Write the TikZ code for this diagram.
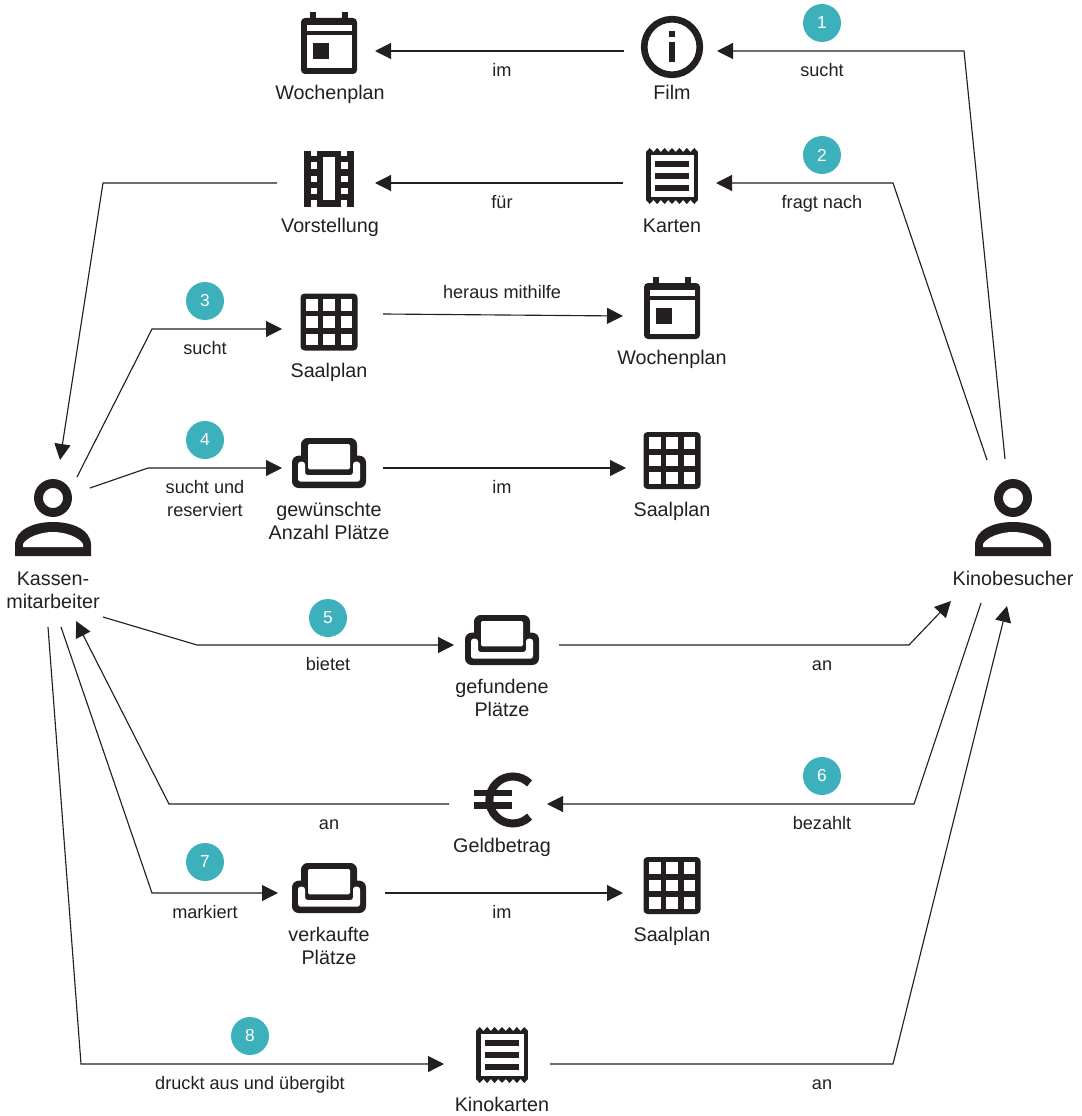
\documentclass[tikz,border=0pt]{standalone}
\usepackage{fontspec}
\setmainfont{Liberation Sans}
\usetikzlibrary{arrows.meta,positioning}
\definecolor{icondark}{HTML}{231F20}
\definecolor{stepteal}{HTML}{3DB1BB}
\tikzset{
    link/.style={-{Triangle[length=12pt,width=12pt]},line width=.85pt,icondark},
    iconbox/.style={inner sep=0pt,outer sep=0pt,minimum height=1pt,minimum width=#1*.75pt},
    thing/.style={inner sep=0pt,anchor=base,yshift=-1pt,align=center,text=icondark,font=\fontsize{14.8}{17.25}\selectfont},
    verb/.style={inner sep=0pt,anchor=base,yshift=-.4pt,align=center,text=icondark,font=\fontsize{13.6}{17.25}\selectfont},
    stepdot/.style={circle,fill=stepteal,text=white,inner sep=0pt,minimum size=28.5pt,font=\fontsize{13}{15}\selectfont},
    calendaricon/.pic={
        \fill[icondark,rounded corners=3pt] (-28,-25) rectangle (28,31);
        \fill[icondark] (-19,-31) rectangle (-13,-20);
        \fill[icondark] (13,-31) rectangle (19,-20);
        \fill[white] (-22.5,-18) rectangle (22.5,-12);
        \fill[white] (-22.5,-8) rectangle (22.5,25.5);
        \fill[icondark] (-16,0) rectangle (0,16);
    },
    infoicon/.pic={
        \draw[icondark,line width=5pt] (0,0) circle (27.8);
        \fill[icondark] (-3.3,-16) rectangle (3.3,-10);
        \fill[icondark] (-3.3,-5) rectangle (3.3,15);
    },
    stripicon/.pic={
        \fill[icondark] (-25,-28) rectangle (25,28);
        \fill[white] (-6.3,-22) rectangle (6,21);
        \foreach \y in {-16.5,-3,9} {
            \fill[white] (-18.5,\y) rectangle (-12.3,\y+6.5);
            \fill[white] (12,\y) rectangle (18.5,\y+6.5);
        }
        \foreach \x in {-18.5,12} {
            \fill[white] (\x,-28.5) rectangle (\x+6.4,-22.5);
            \fill[white] (\x,21.5) rectangle (\x+6.4,28.5);
        }
    },
    receipticon/.pic={
        \fill[icondark] (-26,-24) rectangle (26,24);
        \foreach \i in {0,...,6} {
            \fill[icondark] (-26+7.43*\i,-24) -- (-22.3+7.43*\i,-28) -- (-18.57+7.43*\i,-24) -- cycle;
            \fill[icondark] (-26+7.43*\i,24) -- (-22.3+7.43*\i,28) -- (-18.57+7.43*\i,24) -- cycle;
        }
        \fill[white] (-21.5,-21) rectangle (21.5,20.8);
        \foreach \y in {-12,0,12} {
            \fill[icondark] (-17,\y-2.8) rectangle (17.3,\y+2.8);
        }
    },
    gridicon/.pic={
        \fill[icondark,rounded corners=3pt] (-28.5,-28.5) rectangle (28.5,28.5);
        \foreach \x in {-17.3,0,17.3} {
            \foreach \y in {-17.3,0,17.3} {
                \fill[white] (\x-5.8,\y-5.8) rectangle (\x+5.8,\y+5.8);
            }
        }
    },
    sofaicon/.pic={
        \fill[icondark,rounded corners=5pt] (-28,-25) rectangle (28,5);
        \fill[icondark,rounded corners=5pt] (-37,-7.3) rectangle (37,25);
        \fill[white,rounded corners=1pt] (-21,-19) rectangle (21,6.3);
        \fill[white,rounded corners=2pt] (-31,-1.3) -- (-24,-1.3) -- (-24,12) -- (24,12) -- (24,-1.3) -- (31,-1.3) -- (31,18.7) -- (-31,18.7) -- cycle;
    },
    euroicon/.pic={
        \draw[icondark,line width=6pt] (27.5,16.6) arc (45:315:23.5);
        \fill[icondark] (-28,-10.5) rectangle (10,-4);
        \fill[icondark] (-28,2) rectangle (10,8.5);
    },
    personicon/.pic={
        \draw[icondark,line width=6.7pt] (0,-29) circle (14.5);
        \fill[icondark] (-38,29) -- (-38,18) .. controls (-38,3) and (-20,-5) .. (0,-5) .. controls (20,-5) and (38,3) .. (38,18) -- (38,29) -- cycle;
        \fill[white] (-30,20) -- (-30,17) .. controls (-26,10) and (-12,5) .. (0,5) .. controls (12,5) and (26,10) .. (30,17) -- (30,20) -- cycle;
    }
}

\begin{document}
\begin{tikzpicture}[x=.75pt,y=-.75pt]
    \useasboundingbox (0,0) rectangle (1081,1116);

    % icons
    \pic at (329,43) {calendaricon};
    \pic at (672,47) {infoicon};
    \pic at (329,179) {stripicon};
    \pic at (672,176) {receipticon};
    \pic at (329,322) {gridicon};
    \pic at (672,308) {calendaricon};
    \pic at (329,463) {sofaicon};
    \pic at (672,460.5) {gridicon};
    \pic at (502,640) {sofaicon};
    \pic at (502,800) {euroicon};
    \pic at (329,888) {sofaicon};
    \pic at (672,885.5) {gridicon};
    \pic at (502,1055) {receipticon};
    \pic at (53,527) {personicon};
    \pic at (1013,527) {personicon};

    % connector ends of the icons
    \node[iconbox=92] (plantop) at (329,51) {};
    \node[iconbox=93] (film) at (670.5,51) {};
    \node[iconbox=98] (show) at (326,183) {};
    \node[iconbox=93] (tickets) at (669.5,183) {};
    \node[iconbox=101,minimum height=11.25pt] (hallplan) at (332.5,321.5) {};
    \node[iconbox=98] (planmid) at (672,316) {};
    \node[iconbox=101] (seats) at (332.5,468) {};
    \node[iconbox=92] (hallseats) at (672,468) {};
    \node[iconbox=105] (found) at (506.5,645) {};
    \node[iconbox=98] (money) at (498,804) {};
    \node[iconbox=107] (sold) at (331.5,893) {};
    \node[iconbox=98] (hallsold) at (672,893) {};
    \node[iconbox=106] (printed) at (497,1064) {};

    % ends at the two persons
    \coordinate (clerkA) at (60,460);
    \coordinate (clerkB) at (77,477);
    \coordinate (clerkC) at (90,488);
    \coordinate (clerkD) at (103,617);
    \coordinate (clerkE) at (76,621);
    \coordinate (clerkF) at (61,627);
    \coordinate (clerkG) at (48,627);
    \coordinate (guestA) at (1005,459);
    \coordinate (guestB) at (987,460);
    \coordinate (guestC) at (951,601);
    \coordinate (guestD) at (981,603);
    \coordinate (guestE) at (1007,606);

    % connectors
    \draw[link] (film.west) -- (plantop.east);
    \draw[link] (tickets.west) -- (show.east);
    \draw[link] (hallplan.north east) -- (planmid.west);
    \draw[link] (seats.east) -- (hallseats.west);
    \draw[link] (sold.east) -- (hallsold.west);
    \draw[link] (guestA) -- (964,51) -- (film.east);
    \draw[link] (guestB) -- (893,183) -- (tickets.east);
    \draw[link] (show.west) -- (103,183) -- (clerkA);
    \draw[link] (clerkB) -- (152,329) -- (hallplan.south west);
    \draw[link] (clerkC) -- (148,468) -- (seats.west);
    \draw[link] (clerkD) -- (197,645) -- (found.west);
    \draw[link] (found.east) -- (909,645) -- (guestC);
    \draw[link] (guestD) -- (914,804) -- (money.east);
    \draw[link] (money.west) -- (169,804) -- (clerkE);
    \draw[link] (clerkF) -- (152,893) -- (sold.west);
    \draw[link] (clerkG) -- (81,1064) -- (printed.west);
    \draw[link] (printed.east) -- (893,1064) -- (guestE);

    % step numbers
    \node[stepdot] (one) at (822,23) {1};
    \node[stepdot] (two) at (822,155) {2};
    \node[stepdot] (three) at (205,301) {3};
    \node[stepdot] (four) at (205,440) {4};
    \node[stepdot] (five) at (328,618) {5};
    \node[stepdot] (six) at (822,776) {6};
    \node[stepdot] (seven) at (205,862) {7};
    \node[stepdot] (eight) at (250,1036) {8};

    % names of the things
    \node[thing] (lplantop) at (330,98) {Wochenplan};
    \node[thing] (lfilm) at (672,98) {Film};
    \node[thing] (lshow) at (330,231) {Vorstellung};
    \node[thing] (ltickets) at (672,231) {Karten};
    \node[thing] (lhallplan) at (329,376) {Saalplan};
    \node[thing] (lplanmid) at (672,363) {Wochenplan};
    \node[thing] (lseats) at (329,538) {gewünschte\\Anzahl Plätze};
    \node[thing] (lhallseats) at (672,515) {Saalplan};
    \node[thing] (lclerk) at (53,607) {Kassen-\\mitarbeiter};
    \node[thing] (lguest) at (1013,584) {Kinobesucher};
    \node[thing] (lfound) at (502,715) {gefundene\\Plätze};
    \node[thing] (lmoney) at (502,851) {Geldbetrag};
    \node[thing] (lsold) at (329,963) {verkaufte\\Plätze};
    \node[thing] (lhallsold) at (672,940) {Saalplan};
    \node[thing] (lprinted) at (502,1110) {Kinokarten};

    % verbs on the connectors
    \node[verb] (im) at (502,76) {im};
    \node[verb] (sucht) at (822,76) {sucht};
    \node[verb] (fuer) at (502,208) {für};
    \node[verb] (fragt) at (822,208) {fragt nach};
    \node[verb] (suchtb) at (205,354) {sucht};
    \node[verb] (heraus) at (502,298) {heraus mithilfe};
    \node[verb] (reserv) at (205,516) {sucht und\\reserviert};
    \node[verb] (imb) at (502,493) {im};
    \node[verb] (bietet) at (328,670) {bietet};
    \node[verb] (an) at (822,670) {an};
    \node[verb] (bezahlt) at (822,829) {bezahlt};
    \node[verb] (anb) at (329,829) {an};
    \node[verb] (markiert) at (205,918) {markiert};
    \node[verb] (imc) at (502,918) {im};
    \node[verb] (druckt) at (250,1089) {druckt aus und übergibt};
    \node[verb] (anc) at (822,1089) {an};
\end{tikzpicture}
\end{document}
